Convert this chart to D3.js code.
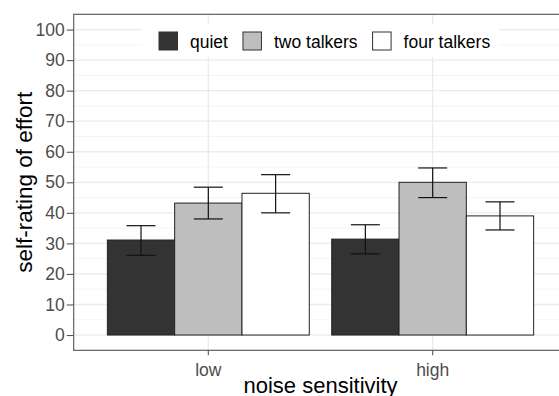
<!DOCTYPE html>
<html lang="en">
<head>
<meta charset="UTF-8">
<title>Self-rating of effort</title>
<script src="https://d3js.org/d3.v7.min.js"></script>
<style>
  body { margin: 0; background: #fff; }
  svg { display: block; font-family: 'Liberation Sans', Arial, sans-serif; }
</style>
</head>
<body>
<svg id="chart" width="559" height="396"></svg>
<script>
// data
const groups = ["low", "high"];
const conditions = ["quiet", "two talkers", "four talkers"];
const meanLow = [31.1, 43.2, 46.4];
const meanHigh = [31.4, 50.0, 39.0];
const upperLow = [35.8, 48.4, 52.5];
const upperHigh = [36.1, 54.7, 43.6];
const lowerLow = [26.1, 38.0, 40.0];
const lowerHigh = [26.6, 45.0, 34.4];
const yTicks = [0, 10, 20, 30, 40, 50, 60, 70, 80, 90, 100];
const fills = ["#333333", "#bebebe", "#ffffff"];

const rows = [];
groups.forEach((g, gi) => {
  const m = gi === 0 ? meanLow : meanHigh;
  const up = gi === 0 ? upperLow : upperHigh;
  const lo = gi === 0 ? lowerLow : lowerHigh;
  conditions.forEach((c, ci) => rows.push({ group: g, cond: c, mean: m[ci], upper: up[ci], lower: lo[ci] }));
});

const svg = d3.select("#chart");
const panel = { left: 73.7, right: 567.3, top: 14.3, bottom: 350.3 };

const x = d3.scaleBand().domain(groups).range([panel.left, panel.right])
  .paddingInner(0).paddingOuter(0.1);
const step = x.bandwidth();
const xc = d3.scaleBand().domain(conditions).range([-0.45 * step, 0.45 * step]);
const y = d3.scaleLinear().domain([-5, 105]).range([panel.bottom, panel.top]);

// grid
const grid = svg.append("g");
const minor = d3.range(-5, 106, 10);
grid.selectAll(".minor").data(minor).join("line")
  .attr("x1", panel.left).attr("x2", panel.right)
  .attr("y1", d => y(d)).attr("y2", d => y(d))
  .attr("stroke", "#f4f4f4").attr("stroke-width", 1);
grid.selectAll(".major").data(yTicks).join("line")
  .attr("x1", panel.left).attr("x2", panel.right)
  .attr("y1", d => y(d)).attr("y2", d => y(d))
  .attr("stroke", "#ebebeb").attr("stroke-width", 1.3);
grid.selectAll(".vx").data(groups).join("line")
  .attr("x1", d => x(d) + step / 2).attr("x2", d => x(d) + step / 2)
  .attr("y1", panel.top).attr("y2", panel.bottom)
  .attr("stroke", "#ebebeb").attr("stroke-width", 1.3);

// legend background (covers the grid)
svg.append("rect").attr("x", 142).attr("y", 24).attr("width", 357).attr("height", 33).attr("fill", "#fff");

// bars
svg.append("g").selectAll("rect").data(rows).join("rect")
  .attr("x", d => x(d.group) + step / 2 + xc(d.cond))
  .attr("width", xc.bandwidth())
  .attr("y", d => y(d.mean))
  .attr("height", d => y(0) - y(d.mean))
  .attr("fill", d => fills[conditions.indexOf(d.cond)])
  .attr("stroke", "#222").attr("stroke-width", 1);

// error bars
const eb = svg.append("g").attr("stroke", "#111").attr("stroke-width", 1.2).attr("fill", "none");
rows.forEach(d => {
  const cx = x(d.group) + step / 2 + xc(d.cond) + xc.bandwidth() / 2;
  const hw = 14.5;
  eb.append("line").attr("x1", cx).attr("x2", cx).attr("y1", y(d.upper)).attr("y2", y(d.lower));
  eb.append("line").attr("x1", cx - hw).attr("x2", cx + hw).attr("y1", y(d.upper)).attr("y2", y(d.upper));
  eb.append("line").attr("x1", cx - hw).attr("x2", cx + hw).attr("y1", y(d.lower)).attr("y2", y(d.lower));
});

// panel border
svg.append("rect").attr("x", panel.left).attr("y", panel.top)
  .attr("width", panel.right - panel.left).attr("height", panel.bottom - panel.top)
  .attr("fill", "none").attr("stroke", "#555").attr("stroke-width", 1.1);

// axes
const yAxis = svg.append("g").attr("transform", `translate(${panel.left},0)`)
  .call(d3.axisLeft(y).tickValues(yTicks).tickSize(7).tickPadding(2));
const xAxis = svg.append("g").attr("transform", `translate(0,${panel.bottom})`)
  .call(d3.axisBottom(x).tickSize(5).tickPadding(5));
[yAxis, xAxis].forEach(a => {
  a.select(".domain").remove();
  a.selectAll(".tick line").attr("stroke", "#555").attr("stroke-width", 1.1);
  a.selectAll(".tick text").attr("fill", "#4d4d4d").attr("font-size", 17.5)
    .attr("font-family", "'Liberation Sans', Arial, sans-serif");
});
xAxis.selectAll(".tick text").attr("dy", "0.9em");

// axis titles
svg.append("text").attr("x", (panel.left + panel.right) / 2).attr("y", 393)
  .attr("text-anchor", "middle").attr("font-size", 22).attr("fill", "#000")
  .text("noise sensitivity");
svg.append("text").attr("transform", `translate(32,${(panel.top + panel.bottom) / 2}) rotate(-90)`)
  .attr("text-anchor", "middle").attr("font-size", 22.5).attr("fill", "#000")
  .text("self-rating of effort");

// legend
const legend = svg.append("g");
let lx = 159;
conditions.forEach((c, i) => {
  legend.append("rect").attr("x", lx).attr("y", 32).attr("width", 18.5).attr("height", 18)
    .attr("fill", fills[i]).attr("stroke", "#333").attr("stroke-width", 1);
  const t = legend.append("text").attr("x", lx + 31).attr("y", 48).attr("font-size", 17.5)
    .attr("fill", "#000").text(c);
  lx += 31 + t.node().getComputedTextLength() + 15;
});
</script>
</body>
</html>
